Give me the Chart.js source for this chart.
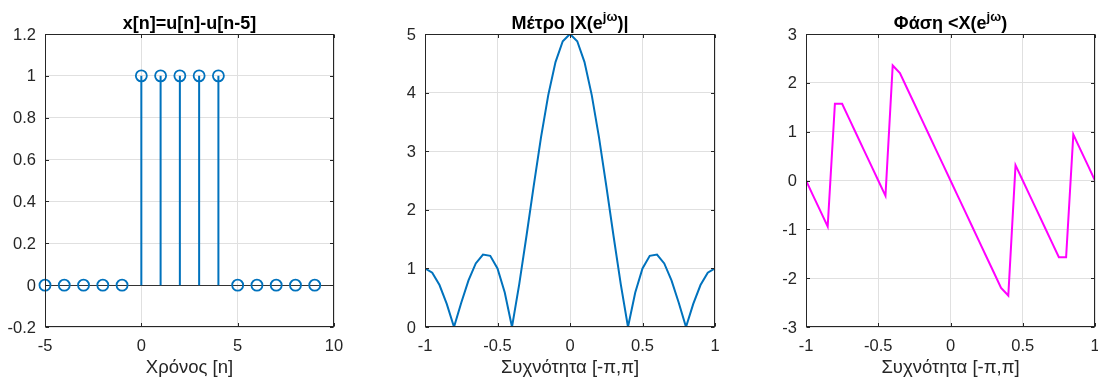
<!DOCTYPE html>
<html><head><meta charset="utf-8">
<script src="https://cdn.jsdelivr.net/npm/chart.js@4.4.0/dist/chart.umd.min.js"></script>
<style>
html,body{margin:0;padding:0;background:#fff;overflow:hidden;width:1098px;height:379px}
.p{position:absolute;top:0}
</style></head><body>
<div class="p" style="left:0"><canvas id="c1" width="354" height="379"></canvas></div>
<div class="p" style="left:366px"><canvas id="c2" width="369" height="379"></canvas></div>
<div class="p" style="left:732px"><canvas id="c3" width="383" height="379"></canvas></div>
<script>
// ---- data ----
const nValues = [-5,-4,-3,-2,-1,0,1,2,3,4,5,6,7,8,9];
const xValues = [0,0,0,0,0,1,1,1,1,1,0,0,0,0,0];
const freq = [-1,-0.95,-0.9,-0.85,-0.8,-0.75,-0.7,-0.65,-0.6,-0.55,-0.5,-0.45,-0.4,-0.35,-0.3,-0.25,-0.2,-0.15,-0.1,-0.05,0,
              0.05,0.1,0.15,0.2,0.25,0.3,0.35,0.4,0.45,0.5,0.55,0.6,0.65,0.7,0.75,0.8,0.85,0.9,0.95,1];
const magnitude = [1.000,0.927,0.716,0.394,0,0.414,0.794,1.084,1.236,1.215,1.000,0.589,0,0.732,1.557,2.414,3.236,3.957,4.520,4.877,5.000,
                   4.877,4.520,3.957,3.236,2.414,1.557,0.732,0,0.589,1.000,1.215,1.236,1.084,0.794,0.414,0,0.394,0.716,0.927,1.000];
const phase = [0,-0.314,-0.628,-0.942,1.571,1.571,1.257,0.942,0.628,0.314,0,-0.314,2.356,2.199,1.885,1.571,1.257,0.942,0.628,0.314,0,
               -0.314,-0.628,-0.942,-1.257,-1.571,-1.885,-2.199,-2.356,0.314,0,-0.314,-0.628,-0.942,-1.257,-1.571,-1.571,0.942,0.628,0.314,0];
const titles = [["x[n]=u[n]-u[n-5]","",""],["Μέτρο |X(e","jω",")|"],["Φάση <X(e","jω",")"]];
const xLabels = ["Χρόνος [n]","Συχνότητα [-π,π]","Συχνότητα [-π,π]"];

// ---- style ----
const FONT = "'Liberation Sans', Arial, Helvetica, sans-serif";
const AX = '#262626';
const GRID = '#e0e0e0';
const BLUE = '#0072BD';
const MAG = '#FF00FF';
Chart.defaults.font.family = FONT;
Chart.defaults.color = AX;

const fmt = v => String(Math.round(v*100)/100);

function framePlugin(stemBase){
  return {
    id:'frame',
    beforeDatasetsDraw(chart){
      if(!stemBase) return;
      const {ctx, chartArea:a, scales:{y}} = chart;
      const yy = Math.round(y.getPixelForValue(0))+0.5;
      ctx.save(); ctx.strokeStyle='#333333'; ctx.lineWidth=1.2;
      ctx.beginPath(); ctx.moveTo(a.left,yy); ctx.lineTo(a.right,yy); ctx.stroke(); ctx.restore();
    },
    afterDraw(chart){
      const {ctx, chartArea:a, scales:{x,y}} = chart;
      const L=Math.round(a.left)+0.5, R=Math.round(a.right)-0.5, T=Math.round(a.top)+0.5, B=Math.round(a.bottom)-0.5;
      ctx.save(); ctx.strokeStyle=AX; ctx.lineWidth=1;
      ctx.strokeRect(L,T,R-L,B-T);
      const tl=3.5;
      ctx.beginPath();
      x.ticks.forEach(t=>{ const px=Math.round(x.getPixelForValue(t.value))+0.5;
        ctx.moveTo(px,B); ctx.lineTo(px,B-tl); ctx.moveTo(px,T); ctx.lineTo(px,T+tl); });
      y.ticks.forEach(t=>{ const py=Math.round(y.getPixelForValue(t.value))+0.5;
        ctx.moveTo(L,py); ctx.lineTo(L+tl,py); ctx.moveTo(R,py); ctx.lineTo(R-tl,py); });
      ctx.stroke(); ctx.restore();
    }
  };
}
function titlePlugin(parts){
  return {
    id:'ttl',
    afterDraw(chart){
      const {ctx, chartArea:a} = chart;
      const main = 'bold 18px '+FONT, sup = 'bold 13px '+FONT;
      ctx.save(); ctx.fillStyle='#000'; ctx.textBaseline='alphabetic'; ctx.textAlign='left';
      ctx.font=main; const w0=ctx.measureText(parts[0]).width, w2=ctx.measureText(parts[2]).width;
      ctx.font=sup; const w1=ctx.measureText(parts[1]).width;
      let xx=(a.left+a.right)/2-(w0+w1+w2)/2; const by=29;
      ctx.font=main; ctx.fillText(parts[0],xx,by); xx+=w0;
      ctx.font=sup; ctx.fillText(parts[1],xx,by-8); xx+=w1;
      ctx.font=main; ctx.fillText(parts[2],xx,by);
      ctx.restore();
    }
  };
}
function opts(cfg){
  return {
    responsive:false, animation:false, devicePixelRatio:1,
    layout:{padding:{top:34,left:0,right:cfg.padR,bottom:0}},
    plugins:{legend:{display:false},tooltip:{enabled:false},title:{display:false}},
    scales:{
      x:{type:'linear',min:cfg.xmin,max:cfg.xmax,
        afterFit:s=>{s.height=52;},
        border:{display:false},
        grid:{color:GRID,lineWidth:1,drawTicks:false},
        ticks:{stepSize:cfg.xstep,padding:10,font:{size:16.5},color:AX,maxRotation:0,callback:fmt},
        title:{display:true,text:cfg.xlabel,font:{size:18.5},color:AX,padding:{top:0,bottom:0}}},
      y:{type:'linear',min:cfg.ymin,max:cfg.ymax,
        afterFit:s=>{s.width=cfg.yw;},
        border:{display:false},
        grid:{color:GRID,lineWidth:1,drawTicks:false},
        ticks:{stepSize:cfg.ystep,padding:9,font:{size:16.5},color:AX,labelOffset:1,callback:fmt}}
    }
  };
}

// ---- chart 1: stem ----
const stemPts=[];
nValues.forEach((n,i)=>{ if(xValues[i]!==0){ stemPts.push({x:n,y:0},{x:n,y:xValues[i]},{x:n,y:null}); } });
new Chart(document.getElementById('c1'),{
  type:'line',
  data:{datasets:[
    {data:stemPts,borderColor:BLUE,borderWidth:2,pointRadius:0,spanGaps:false,fill:false},
    {data:nValues.map((n,i)=>({x:n,y:xValues[i]})),showLine:false,pointRadius:5.5,pointBorderWidth:1.8,
     pointBorderColor:BLUE,pointBackgroundColor:'rgba(0,0,0,0)',clip:false}
  ]},
  options:opts({yw:45,padR:20,xmin:-5,xmax:10,xstep:5,ymin:-0.2,ymax:1.2,ystep:0.2,xlabel:xLabels[0]}),
  plugins:[framePlugin(true),titlePlugin(titles[0])]
});
// ---- chart 2: magnitude ----
new Chart(document.getElementById('c2'),{
  type:'line',
  data:{datasets:[{data:freq.map((f,i)=>({x:f,y:magnitude[i]})),borderColor:BLUE,borderWidth:2,pointRadius:0,tension:0,fill:false}]},
  options:opts({yw:59,padR:20,xmin:-1,xmax:1,xstep:0.5,ymin:0,ymax:5,ystep:1,xlabel:xLabels[1]}),
  plugins:[framePlugin(false),titlePlugin(titles[1])]
});
// ---- chart 3: phase ----
new Chart(document.getElementById('c3'),{
  type:'line',
  data:{datasets:[{data:freq.map((f,i)=>({x:f,y:phase[i]})),borderColor:MAG,borderWidth:2,pointRadius:0,tension:0,fill:false}]},
  options:opts({yw:74,padR:20,xmin:-1,xmax:1,xstep:0.5,ymin:-3,ymax:3,ystep:1,xlabel:xLabels[2]}),
  plugins:[framePlugin(false),titlePlugin(titles[2])]
});
</script>
</body></html>
